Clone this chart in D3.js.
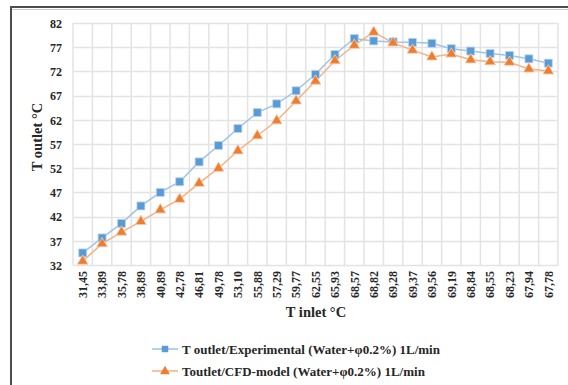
<!DOCTYPE html>
<html>
<head>
<meta charset="utf-8">
<script src="https://cdn.jsdelivr.net/npm/d3@7"></script>
<style>
body{margin:0;background:#fff;}
svg{display:block;}
text{font-family:"Liberation Serif","Times New Roman",serif;font-weight:bold;fill:#262626;}
</style>
</head>
<body>
<svg width="568" height="385"></svg>
<script>
// inlet temperatures (x categories)
var tInlet = ['31,45','33,89','35,78','38,89','40,89','42,78','46,81','49,78','53,10','55,88','57,29','59,77','62,55',
  '65,93','68,57','68,82','69,28','69,37','69,56','69,19','68,84','68,55','68,23','67,94','67,78'];
// measured outlet temperature
var expOut = [34.5,37.6,40.6,44.2,47.0,49.2,53.3,56.7,60.2,63.5,65.3,68.0,71.4,75.5,78.8,78.3,78.1,78.0,77.8,76.7,76.2,75.7,75.3,74.6,73.7];
// CFD outlet temperature
var cfdOut = [32.8,36.4,38.8,41.0,43.4,45.6,48.9,52.0,55.6,58.7,61.8,65.9,70.0,74.2,77.4,80.1,77.9,76.4,75.0,75.6,74.4,74.0,73.9,72.5,72.1];
var yTicks = [32,37,42,47,52,57,62,67,72,77,82];
var legendNames = ['T outlet/Experimental (Water+\u03c60.2%) 1L/min','Toutlet/CFD-model (Water+\u03c60.2%) 1L/min'];

var svg = d3.select('svg');

// frame
svg.append('line').attr('x1',10).attr('x2',568).attr('y1',7).attr('y2',7).attr('stroke','#4d4d4d').attr('stroke-width',2);
svg.append('line').attr('x1',12).attr('x2',568).attr('y1',9.5).attr('y2',9.5).attr('stroke','#c8c8c8').attr('stroke-width',1);
svg.append('line').attr('x1',11).attr('x2',11).attr('y1',6).attr('y2',385).attr('stroke','#4d4d4d').attr('stroke-width',2);

var x = d3.scaleBand().domain(tInlet).range([73,558]);
var y = d3.scaleLinear().domain([32,82]).range([265,23]);
var cx = function(i){ return x(tInlet[i]) + x.bandwidth()/2; };

// grid
var g = svg.append('g');
g.selectAll('.hg').data(yTicks).enter().append('line')
  .attr('x1',73).attr('x2',558).attr('y1',function(d){return Math.round(y(d))+0.5;}).attr('y2',function(d){return Math.round(y(d))+0.5;})
  .attr('stroke','#e3e3e3').attr('stroke-width',1.5);
g.selectAll('.vg').data(tInlet.concat(['end'])).enter().append('line')
  .attr('x1',function(d,i){return 73+i*x.step();}).attr('x2',function(d,i){return 73+i*x.step();})
  .attr('y1',23).attr('y2',265).attr('stroke','#e3e3e3').attr('stroke-width',1.5);

// y axis labels
var ya = svg.append('g').attr('transform','translate(62,0)').call(d3.axisLeft(y).tickValues(yTicks).tickSize(0).tickPadding(0));
ya.attr('font-family',null).attr('font-size',null);
ya.select('.domain').remove();
ya.selectAll('text').attr('font-size',12).attr('dy','0.35em');

// x axis labels
var xa = svg.append('g').attr('transform','translate(0,271)').call(d3.axisBottom(x).tickSize(0).tickPadding(0));
xa.attr('font-family',null).attr('font-size',null);
xa.select('.domain').remove();
xa.selectAll('text').attr('font-size',12)
  .attr('transform','rotate(-90)').attr('text-anchor','end').attr('x',0).attr('y',0).attr('dx',0).attr('dy','0.35em');

// titles
svg.append('text').attr('transform','translate(42,137) rotate(-90)').attr('text-anchor','middle').attr('font-size',14.5).text('T outlet \u00b0C');
svg.append('text').attr('x',316).attr('y',317).attr('text-anchor','middle').attr('font-size',14.5).text('T inlet \u00b0C');

// series
var lineGen = d3.line().x(function(d,i){return cx(i);}).y(function(d){return y(d);});
svg.append('path').datum(expOut).attr('d',lineGen).attr('fill','none').attr('stroke','#9dc3e6').attr('stroke-width',1.5);
svg.append('path').datum(cfdOut).attr('d',lineGen).attr('fill','none').attr('stroke','#f4b183').attr('stroke-width',1.5);

var sq = d3.symbol().type(d3.symbolSquare).size(64);
var tri = d3.symbol().type(d3.symbolTriangle).size(50);
svg.selectAll('.ms').data(expOut).enter().append('path').attr('d',sq)
  .attr('transform',function(d,i){return 'translate('+cx(i)+','+y(d)+')';})
  .attr('fill','#5b9bd5').attr('stroke','#bdd7ee').attr('stroke-width',0.8);
svg.selectAll('.mt').data(cfdOut).enter().append('path').attr('d',tri)
  .attr('transform',function(d,i){return 'translate('+cx(i)+','+y(d)+')';})
  .attr('fill','#ed7d31').attr('stroke','#f8cbad').attr('stroke-width',0.8);

// legend
var leg = svg.append('g').attr('transform','translate(152,349)');
var lc = [['#9dc3e6','#5b9bd5',sq],['#f4b183','#ed7d31',tri]];
legendNames.forEach(function(n,i){
  var r = leg.append('g').attr('transform','translate(0,'+(i*22)+')');
  r.append('line').attr('x1',0).attr('x2',26).attr('stroke',lc[i][0]).attr('stroke-width',1.5);
  r.append('path').attr('d',i==0 ? d3.symbol().type(d3.symbolSquare).size(42) : d3.symbol().type(d3.symbolTriangle).size(42))
    .attr('transform','translate(13,'+(i==0?0:0.5)+')').attr('fill',lc[i][1]);
  r.append('text').attr('x',30).attr('dy','0.35em').attr('font-size',13).text(n);
});
</script>
</body>
</html>
